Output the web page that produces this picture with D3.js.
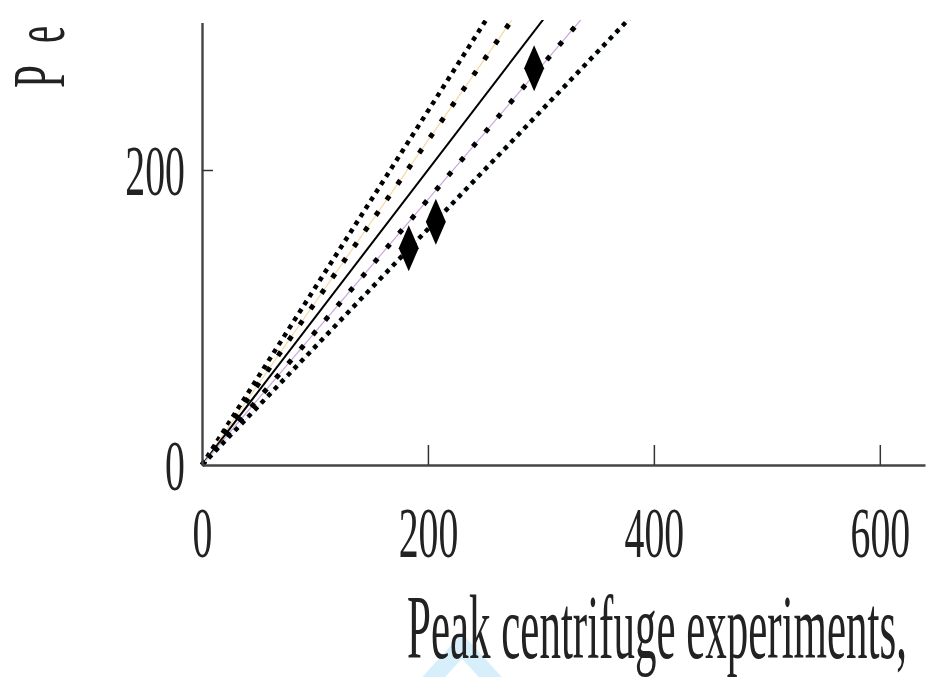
<!DOCTYPE html>
<html>
<head>
<meta charset="utf-8">
<script src="https://cdn.jsdelivr.net/npm/d3@7"></script>
<style>
  body { margin: 0; background: #fff; }
  svg text { font-family: "Liberation Serif", "DejaVu Serif", serif !important; fill: #222; }
</style>
</head>
<body>
<div id="chart"></div>
<script>
var w = 932;
var h = 677;
var serif = "'Liberation Serif', 'DejaVu Serif', serif";

// ratio lines through the origin (predicted = k * measured)
var slopes = [1.2, 1.1, 1.0, 0.9, 0.8];
var lineKinds = ["dots", "marked", "solid", "marked", "dots"];
var lineColors = ["none", "#f6d9a2", "#000", "#c9a6dc", "#bfe6f0"];

// measured points
var obsX = [183, 207, 294];
var obsY = [147, 165, 269];

var xTicks = [0, 200, 400, 600];
var yTicks = [0, 200];

var xScale = d3.scaleLinear().domain([0, 640]).range([202, 925]);
var yScale = d3.scaleLinear().domain([0, 300]).range([465, 22.5]);

var svg = d3.select("#chart").append("svg")
  .attr("width", w)
  .attr("height", h);

svg.append("defs").append("clipPath")
  .attr("id", "plot")
  .append("rect")
  .attr("x", 200).attr("y", 20)
  .attr("width", 730).attr("height", 450);

// faint chevron left over at the bottom of the figure
svg.append("path")
  .attr("d", "M420,692 L462,646 L504,692")
  .attr("fill", "none")
  .attr("stroke", "#d6effb")
  .attr("stroke-width", 17);

var plot = svg.append("g").attr("clip-path", "url(#plot)");

var line = d3.line()
  .x(function(d) { return xScale(d[0]); })
  .y(function(d) { return yScale(d[1]); });

slopes.forEach(function(k, i) {
  var pts = [[0, 0], [640, 640 * k]];
  if (lineKinds[i] == "solid") {
    plot.append("path").attr("d", line(pts))
      .attr("fill", "none").attr("stroke", "#000").attr("stroke-width", 2);
  } else if (lineKinds[i] == "marked") {
    plot.append("path").attr("d", line(pts))
      .attr("fill", "none").attr("stroke", lineColors[i]).attr("stroke-width", 1.2);
    plot.append("path").attr("d", line(pts))
      .attr("fill", "none").attr("stroke", "#000").attr("stroke-width", 5)
      .attr("stroke-dasharray", "5 14");
  } else {
    if (lineColors[i] != "none") {
      plot.append("path").attr("d", line(pts))
        .attr("fill", "none").attr("stroke", lineColors[i]).attr("stroke-width", 1);
    }
    plot.append("path").attr("d", line(pts))
      .attr("fill", "none").attr("stroke", "#000").attr("stroke-width", 4.5)
      .attr("stroke-dasharray", "4.5 5");
  }
});

// diamonds
plot.selectAll(".obs")
  .data(obsX)
  .enter()
  .append("path")
  .attr("class", "obs")
  .attr("transform", function(d, i) {
    return "translate(" + xScale(d) + "," + yScale(obsY[i]) + ")";
  })
  .attr("d", "M0,-23 L10,0 L0,23 L-10,0Z")
  .attr("fill", "#000");

// axes
var xAxis = d3.axisBottom(xScale).tickValues(xTicks).tickSizeInner(-20).tickSizeOuter(0);
var yAxis = d3.axisLeft(yScale).tickValues(yTicks).tickSizeInner(-11).tickSizeOuter(0);

var gx = svg.append("g")
  .attr("transform", "translate(0," + yScale(0) + ")")
  .call(xAxis);
var gy = svg.append("g")
  .attr("transform", "translate(" + xScale(0) + ",0)")
  .call(yAxis);

[gx, gy].forEach(function(g) {
  g.attr("font-family", serif);
  g.select(".domain").attr("stroke", "#444").attr("stroke-width", 2.4);
  g.selectAll(".tick line").attr("stroke", "#333").attr("stroke-width", 1.5);
  g.selectAll("text").remove();
});
gx.selectAll(".tick line").filter(function(d) { return d == 0; }).remove();
gy.selectAll(".tick line").filter(function(d) { return d == 0; }).remove();

gx.selectAll(".tick").append("g")
  .attr("transform", "translate(0,92) scale(0.56,1)")
  .append("text")
  .attr("font-family", serif)
  .attr("text-anchor", "middle")
  .attr("font-size", 71)
  .text(function(d) { return d; });

gy.selectAll(".tick").append("g")
  .attr("transform", "translate(-17,24) scale(0.56,1)")
  .append("text")
  .attr("font-family", serif)
  .attr("text-anchor", "end")
  .attr("font-size", 71)
  .text(function(d) { return d; });

// axis titles (cut off in the original figure)
svg.append("text")
  .attr("x", 407)
  .attr("y", 658)
  .attr("font-family", serif)
  .attr("font-size", 90)
  .attr("textLength", 500)
  .attr("lengthAdjust", "spacingAndGlyphs")
  .text("Peak centrifuge experiments,");

var yl = svg.append("text")
  .attr("transform", "translate(64,88) rotate(-90)")
  .attr("font-family", serif)
  .attr("font-size", 75);
yl.append("tspan").attr("textLength", 23).attr("lengthAdjust", "spacingAndGlyphs").text("P");
yl.append("tspan").attr("dx", 22).attr("textLength", 17).attr("lengthAdjust", "spacingAndGlyphs").text("e");
</script>
</body>
</html>
